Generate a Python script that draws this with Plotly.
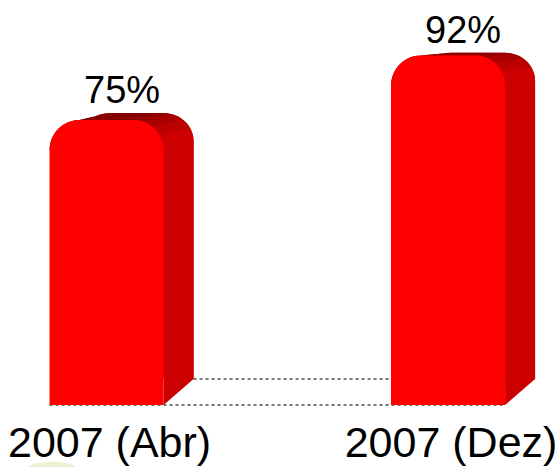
import numpy as np
import plotly.graph_objects as go

# ---- data ----
categories = ["2007 (Abr)", "2007 (Dez)"]
values = [75, 92]
value_labels = ["75%", "92%"]

# ---- layout constants (pixels) ----
W, H = 560, 467
ZERO_PX = 405          # pixel row of value 0
MARGIN_B = 54
SY = 3.8               # px per percentage point
X_LEFT = -0.312
SX = 341.5             # px per category step
BAR_W = 0.334          # bar width in category units
R_PX = 30              # corner radius
DX_PX = 30             # depth offset (horizontal)
DY_PX = 26             # depth offset at floor (vertical)
SHRINK = 0.933         # perspective shrink of the back face

plot_h = H - MARGIN_B
Y_MAX = ZERO_PX / SY
Y_MIN = -(plot_h - ZERO_PX) / SY
X_RIGHT = X_LEFT + W / SX

DX = DX_PX / SX
DEPTH_Y = DY_PX / SY
RX = R_PX / SX
RY = R_PX / SY

xpos = list(range(len(categories)))


def back(pts):
    return [(x + DX, DEPTH_Y + SHRINK * y) for x, y in pts]


def arc(cx, cy, a0, a1, n=12):
    t = np.radians(np.linspace(a0, a1, n))
    return [(cx + RX * np.cos(a), cy + RY * np.sin(a)) for a in t]


def path(pts):
    return "M " + " L ".join(f"{x:.5f},{y:.5f}" for x, y in pts) + " Z"


def outline(xc, v):
    xl, xr = xc - BAR_W / 2, xc + BAR_W / 2
    pts = [(xl, 0), (xr, 0)]
    pts += arc(xr - RX, v - RY, 0, 90)
    pts += arc(xl + RX, v - RY, 90, 180)
    return pts


shapes = []
# dotted floor lines
shapes.append(dict(type="line", xref="x", yref="y", layer="below",
                   x0=xpos[0] - BAR_W / 2, y0=0, x1=xpos[-1] + BAR_W / 2, y1=0,
                   line=dict(color="#777777", width=2, dash="dot")))
shapes.append(dict(type="line", xref="x", yref="y", layer="below",
                   x0=xpos[0] + BAR_W / 2 + DX, y0=DEPTH_Y,
                   x1=xpos[-1] - BAR_W / 2 + DX, y1=DEPTH_Y,
                   line=dict(color="#777777", width=2, dash="dot")))

SIDE = "#CC0000"
bands = [(0, 30, SIDE), (30, 50, "#BB0000"), (50, 70, "#A80000"), (70, 90, "#980000")]
TOP = "#870000"

for xc, v in zip(xpos, values):
    xl, xr = xc - BAR_W / 2, xc + BAR_W / 2
    # back face
    shapes.append(dict(type="path", xref="x", yref="y", layer="below",
                       path=path(back(outline(xc, v))), fillcolor=SIDE,
                       line=dict(width=0)))
    # right side
    side = [(xr, 0), (xr, v - RY)]
    shapes.append(dict(type="path", xref="x", yref="y", layer="below",
                       path=path(side + back(side)[::-1]), fillcolor=SIDE,
                       line=dict(width=0)))
    # rounded top-right sweep
    for a0, a1, col in bands:
        seg = arc(xr - RX, v - RY, a0, a1, 6)
        shapes.append(dict(type="path", xref="x", yref="y", layer="below",
                           path=path(seg + back(seg)[::-1]), fillcolor=col,
                           line=dict(width=0)))
    # flat top
    top = [(xr - RX, v), (xl + RX, v)]
    shapes.append(dict(type="path", xref="x", yref="y", layer="below",
                       path=path(top + back(top)[::-1]), fillcolor=TOP,
                       line=dict(width=0)))
    # top-left sweep
    seg = arc(xl + RX, v - RY, 90, 180, 12)
    shapes.append(dict(type="path", xref="x", yref="y", layer="below",
                       path=path(seg + back(seg)[::-1]), fillcolor=TOP,
                       line=dict(width=0)))

# faint green glow at the bottom-left corner of the picture
shapes.append(dict(type="circle", xref="paper", yref="paper", layer="below",
                   x0=0.05, x1=0.135, y0=-0.145, y1=-0.118,
                   fillcolor="rgba(200,222,140,0.4)", line=dict(width=0)))

fig = go.Figure()
fig.add_trace(go.Bar(
    x=xpos, y=values, width=BAR_W,
    marker=dict(color="#FF0000", line=dict(width=0), cornerradius=R_PX),
    hoverinfo="skip", showlegend=False,
))

annotations = []
for xc, v, lab in zip(xpos, values, value_labels):
    annotations.append(dict(
        x=xc + DX / 2, y=DEPTH_Y + SHRINK * v, xref="x", yref="y",
        text=lab, showarrow=False, yanchor="bottom", xanchor="center",
        font=dict(family="Liberation Sans, Arial", size=38, color="#000000"),
    ))

fig.update_layout(
    width=W, height=H,
    margin=dict(l=0, r=0, t=0, b=MARGIN_B, pad=0),
    paper_bgcolor="white", plot_bgcolor="white",
    shapes=shapes, annotations=annotations,
    showlegend=False,
    xaxis=dict(range=[X_LEFT, X_RIGHT], tickmode="array", tickvals=xpos,
               ticktext=categories, showgrid=False, zeroline=False,
               showline=False, ticks="", fixedrange=True, ticklabelshift=3,
               tickfont=dict(family="Liberation Sans, Arial", size=43, color="#000000")),
    yaxis=dict(range=[Y_MIN, Y_MAX], visible=False, fixedrange=True),
)

fig.write_html("out.html", config={"displayModeBar": False},
               post_script="document.body.style.margin='0px';")
